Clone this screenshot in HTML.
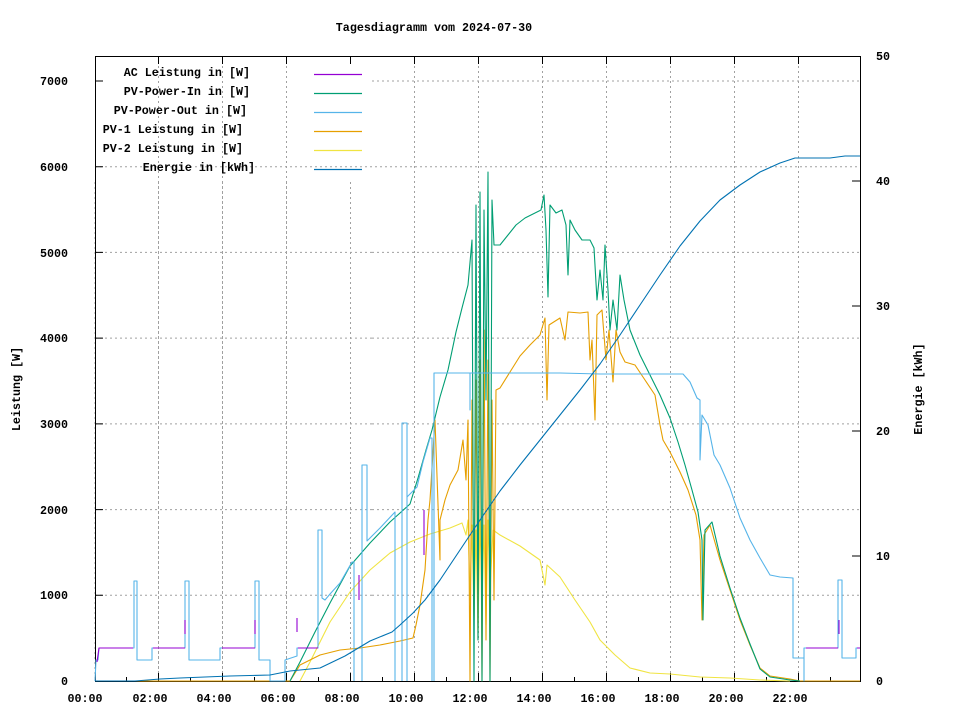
<!DOCTYPE html>
<html><head><meta charset="utf-8"><style>
body{margin:0;background:#fff}
svg text{font-family:"Liberation Mono",monospace;font-size:11.7px;font-weight:bold;fill:#000}
</style></head><body>
<svg width="960" height="720" viewBox="0 0 960 720" xmlns="http://www.w3.org/2000/svg">
<rect width="960" height="720" fill="#fff"/>
<text x="434" y="31" text-anchor="middle">Tagesdiagramm vom 2024-07-30</text>
<g stroke="#a0a0a0" stroke-dasharray="2,3" stroke-width="1">
<path d="M372 595.3H860M372 509.6H860M372 423.9H860M372 338.1H860M372 252.4H860M95 166.7H860M372 81H860"/>
<path d="M158.5 56V681M222.5 56V681M286.5 56V681M350.5 182V681M414.5 56V681M478.5 56V681M542.5 56V681M606.5 56V681M670.5 56V681M734.5 56V681M798.5 56V681"/>
<path d="M95 595.3H372M95 509.6H372M95 423.9H372M95 338.1H372M95 252.4H372M95 182V681M158.5 182V681M222.5 182V681M286.5 182V681"/>
</g>
<rect x="95.5" y="56.5" width="765" height="625" fill="none" stroke="#000"/>
<g stroke="#000">
<path d="M95 595.3h8M95 509.6h8M95 423.9h8M95 338.1h8M95 252.4h8M95 166.7h8M95 81h8"/>
<path d="M860 556h-8M860 431h-8M860 306h-8M860 181h-8"/>
<path d="M158.5 681v-8M222.5 681v-8M286.5 681v-8M350.5 681v-8M414.5 681v-8M478.5 681v-8M542.5 681v-8M606.5 681v-8M670.5 681v-8M734.5 681v-8M798.5 681v-8"/>
<path d="M126.5 681v-4M190.5 681v-4M254.5 681v-4M318.5 681v-4M382.5 681v-4M446.5 681v-4M510.5 681v-4M574.5 681v-4M638.5 681v-4M702.5 681v-4M766.5 681v-4M830.5 681v-4"/>
<path d="M158.5 56v8M222.5 56v8M286.5 56v8M350.5 56v8M414.5 56v8M478.5 56v8M542.5 56v8M606.5 56v8M670.5 56v8M734.5 56v8M798.5 56v8"/>
</g>
<g text-anchor="end">
<text x="68" y="685">0</text><text x="68" y="599">1000</text><text x="68" y="514">2000</text><text x="68" y="428">3000</text><text x="68" y="342">4000</text><text x="68" y="257">5000</text><text x="68" y="171">6000</text><text x="68" y="85">7000</text>
</g>
<g>
<text x="876" y="685">0</text><text x="876" y="560">10</text><text x="876" y="435">20</text><text x="876" y="310">30</text><text x="876" y="185">40</text><text x="876" y="60">50</text>
</g>
<g text-anchor="middle">
<text x="85" y="702">00:00</text><text x="150" y="702">02:00</text><text x="214" y="702">04:00</text><text x="278" y="702">06:00</text><text x="342" y="702">08:00</text><text x="406" y="702">10:00</text><text x="470" y="702">12:00</text><text x="534" y="702">14:00</text><text x="598" y="702">16:00</text><text x="662" y="702">18:00</text><text x="726" y="702">20:00</text><text x="790" y="702">22:00</text>
</g>
<text transform="translate(20,389) rotate(-90)" text-anchor="middle">Leistung [W]</text>
<text transform="translate(922,389) rotate(-90)" text-anchor="middle">Energie [kWh]</text>
<g text-anchor="end">
<text x="250" y="76">AC Leistung in [W]</text>
<text x="250" y="95">PV-Power-In in [W]</text>
<text x="247" y="114">PV-Power-Out in [W]</text>
<text x="243" y="133">PV-1 Leistung in [W]</text>
<text x="243" y="152">PV-2 Leistung in [W]</text>
<text x="255" y="171">Energie in [kWh]</text>
</g>
<g stroke-width="1.2" fill="none">
<path d="M314 74.5h48" stroke="#9400d3"/>
<path d="M314 93.5h48" stroke="#009e73"/>
<path d="M314 112.5h48" stroke="#56b4e9"/>
<path d="M314 131.5h48" stroke="#e69f00"/>
<path d="M314 150.5h48" stroke="#f0e442"/>
<path d="M314 169.5h48" stroke="#0072b2"/>
</g>
<g fill="none" stroke-width="1.1" stroke-linejoin="round">
<!-- PV-2 -->
<path stroke="#f0e442" d="M300 681L310 662L330 622L350 592L370 570L390 553L410 542L430 534L450 528L462 523L466 535L468 520L470 600L472 525L474 620L476 530L478 630L480 520L482 600L484 525L486 625L488 520L490 590L493 530L500 535L520 546L540 560L545 585L547 565L560 577L575 600L590 622L600 640L615 655L630 668L650 673L670 674L700 677L730 678L760 680L790 681"/>
<!-- PV-1 -->
<path stroke="#e69f00" d="M95 681H290L300 665L320 655L340 650L360 648L380 645L400 641L413 638L416 625L420 605L425 570L428 520L430 500L435 420L440 560L440 520L445 500L450 485L458 470L463 440L466 480L468 420L470 681L472 400L474 620L476 380L478 640L480 360L482 681L484 330L486 640L488 360L490 681L492 400L494 600L496 390L500 388L510 372L520 356L530 345L540 335L545 318L547 400L549 325L560 318L565 340L568 312L580 313L588 312L590 360L592 340L595 420L597 315L602 310L606 360L609 330L613 382L616 330L620 352L625 362L635 365L645 380L655 395L660 425L663 440L670 452L680 472L688 490L696 515L700 540L702 620L704 535L710 525L720 560L730 590L740 620L750 645L760 668L770 676L790 679L800 681H860"/>
<!-- PV-In -->
<path stroke="#009e73" d="M290 681L300 662L315 632L330 603L350 566L370 543L390 522L410 504L418 478L426 450L432 430L440 397L448 370L456 332L462 308L468 285L472 240L474 681L476 205L478 640L480 192L482 681L484 210L486 400L488 172L490 681L492 200L494 245L500 245L508 235L516 225L525 218L535 213L541 210L544 195L546 230L548 297L550 205L556 213L562 210L566 225L568 275L570 220L575 230L582 240L590 240L594 248L597 300L600 270L603 300L605 245L608 290L610 330L613 300L617 330L620 275L624 300L630 330L640 355L650 375L660 395L670 418L678 442L685 465L692 490L698 512L702 540L703 620L705 530L712 522L720 556L730 588L740 618L750 644L760 669L770 677L790 680L800 681"/>
<!-- PV-Out -->
<path stroke="#56b4e9" d="M95 681L96 660H98L99 648H134V581H137V660H152V648H185V581H189V660H220V648H255V581H259V660H270V681H285V660L297 656V648H318V530H322V598L325 600L330 594L340 583L352 562H354V681M362 681V465H367V541L380 528L395 512V681M402 681V423H407V681M407 497L417 487L423 462L430 438H432V681M434 681V373H470V410V373H490V373H560L600 374H683L690 382L697 398L700 400V460L702 415L708 425L714 455L720 465L730 488L740 518L750 540L760 558L770 575L780 577L793 578V658H804V681V648H838V580H842V658H856V648H860"/>
<!-- AC -->
<path stroke="#9400d3" d="M97 662L99 648H133M153 648H185M185 620V634M222 648H255M255 620V634M297 618V632M298 648H318M359 600V575M424 555V510M806 648H838M839 620V634M857 648H860"/>
<!-- Energie -->
<path stroke="#0072b2" d="M95 681H135L160 679L180 678L230 676L270 675L290 671L320 668L345 656L370 641L392 632L400 625L413 613L425 600L440 580L460 550L480 520L500 491L520 465L540 440L560 415L580 390L600 364L620 335L640 305L660 275L680 246L700 221L720 200L740 185L760 172L780 163L795 158L830 158L845 156L860 156"/>
</g>
</svg>
</body></html>
